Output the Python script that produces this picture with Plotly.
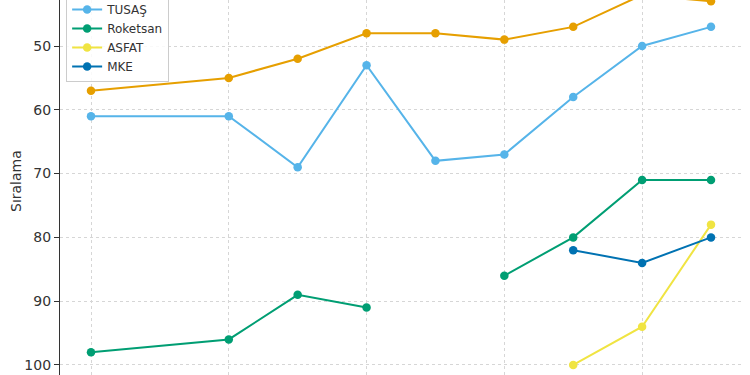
import plotly.graph_objects as go

years = [2014, 2016, 2017, 2018, 2019, 2020, 2021, 2022, 2023]
aselsan = [57, 55, 52, 48, 48, 49, 47, 42, 43]
tusas = [61, 61, 69, 53, 68, 67, 58, 50, 47]
roketsan = [98, 96, 89, 91, None, 86, 80, 71, 71]
asfat = [None, None, None, None, None, None, 100, 94, 78]
mke = [None, None, None, None, None, None, 82, 84, 80]

series = [
    ("ASELSAN", aselsan, "#E69F00"),
    ("TUSAŞ", tusas, "#56B4E9"),
    ("Roketsan", roketsan, "#009E73"),
    ("ASFAT", asfat, "#F0E442"),
    ("MKE", mke, "#0072B2"),
]

fig = go.Figure()
for name, vals, color in series:
    fig.add_trace(go.Scatter(
        x=years, y=vals, name=name, mode="lines+markers",
        line=dict(color=color, width=2),
        marker=dict(color=color, size=8.5),
        connectgaps=False,
    ))

grid = dict(showgrid=True, gridcolor="#d6d6d6", griddash="3px,3px", gridwidth=1)
fig.update_layout(
    width=750, height=375,
    margin=dict(l=60, r=8, t=0, b=0, autoexpand=False),
    paper_bgcolor="white", plot_bgcolor="white",
    font=dict(family="DejaVu Sans", color="#333333"),
    showlegend=True,
    legend=dict(
        x=0.009, xanchor="left", y=1 - 82 / 375, yanchor="bottom",
        bgcolor="rgba(255,255,255,0.85)", bordercolor="#cccccc", borderwidth=1,
        font=dict(size=12, family="DejaVu Sans", color="#333333"),
        itemwidth=30,
    ),
    xaxis=dict(range=[2014 - 0.45, 2023 + 0.45], tick0=2014, dtick=2,
               showticklabels=False, ticks="", zeroline=False,
               showline=False, automargin=False, **grid),
    yaxis=dict(range=[101.57, 42.79], tick0=0, dtick=10,
               ticks="outside", ticklen=5, tickcolor="#333333",
               tickfont=dict(size=14, family="DejaVu Sans", color="#333333"),
               showline=True, linecolor="#333333", linewidth=1.2,
               zeroline=False, automargin=False, **grid),
    annotations=[dict(
        text="Sıralama", textangle=-90, showarrow=False,
        xref="paper", yref="paper", x=(16 - 60) / 682, y=1 - 181 / 375,
        xanchor="center", yanchor="middle",
        font=dict(size=14, family="DejaVu Sans", color="#333333"),
    )],
)

fig.write_html("out.html")
